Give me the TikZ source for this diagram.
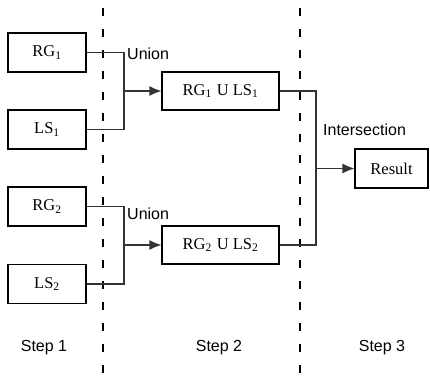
\documentclass[tikz,border=0pt]{standalone}
\usepackage{fontspec}
\setmainfont{Liberation Serif}
\newfontfamily\labelfont{Liberation Sans}
\usetikzlibrary{arrows.meta}
\begin{document}
\begin{tikzpicture}[x=1pt,y=-1pt,
  box/.style={draw=black,line width=1.1pt,minimum height=39pt,inner sep=0pt,
    font=\fontsize{16.5}{19}\selectfont},
  conn/.style={draw=black!80,line width=1.3pt},
  arr/.style={conn,-{Latex[length=12pt,width=10pt]}},
  lbl/.style={font=\labelfont\fontsize{16}{19}\selectfont,inner sep=0pt},
  divider/.style={draw=black,line width=1.3pt,dash pattern=on 8pt off 13pt}]
\useasboundingbox (0,0) rectangle (430,377);
\fill[white] (0,0) rectangle (430,377);

\draw[divider] (103,8) -- (103,377);
\draw[divider] (300,8) -- (300,377);

\node[box,minimum width=78pt] (rg1) at (47,52.5) {RG\textsubscript{1}};
\node[box,minimum width=78pt] (ls1) at (47,129.5) {LS\textsubscript{1}};
\node[box,minimum width=78pt] (rg2) at (47,206.5) {RG\textsubscript{2}};
\node[box,minimum width=78pt] (ls2) at (47,284) {LS\textsubscript{2}};
\node[box,minimum width=117pt,minimum height=38pt] (u1) at (220.5,91) {RG\textsubscript{1}\hspace{5pt}U LS\textsubscript{1}};
\node[box,minimum width=117pt,minimum height=38pt] (u2) at (220.5,245) {RG\textsubscript{2}\hspace{5pt}U LS\textsubscript{2}};
\node[box,minimum width=73pt] (res) at (391.5,168.5) {Result};

\coordinate (j1) at (124,91);
\coordinate (j2) at (124,245);
\coordinate (j3) at (316,168.5);

\draw[conn] (rg1.east) -| (j1) |- (ls1.east);
\draw[arr] (j1) -- (u1.west);
\draw[conn] (rg2.east) -| (j2) |- (ls2.east);
\draw[arr] (j2) -- (u2.west);
\draw[conn] (u1.east) -| (j3) |- (u2.east);
\draw[arr] (j3) -- (res.west);

\node[lbl,anchor=west] (un1) at (127,54) {Union};
\node[lbl,anchor=west] (un2) at (127,214) {Union};
\node[lbl,anchor=west] (inter) at (323,130) {Intersection};

\node[lbl] (s1) at (44,348) {Step 1};
\node[lbl] (s2) at (219,348) {Step 2};
\node[lbl] (s3) at (382,348) {Step 3};
\end{tikzpicture}
\end{document}
